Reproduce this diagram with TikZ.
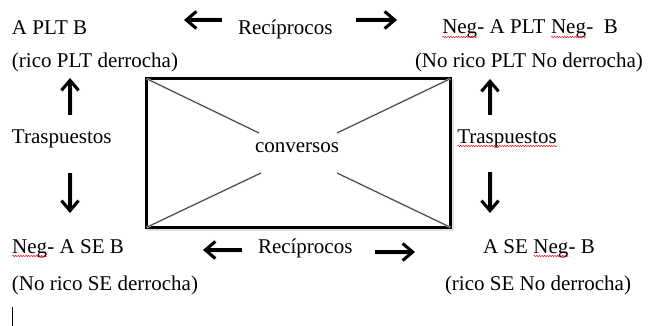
\documentclass[tikz,border=0pt]{standalone}
\usepackage{fontspec}
\setmainfont{Liberation Serif}
\usetikzlibrary{arrows.meta,decorations.pathmorphing}
\newcommand\sq[1]{\tikz[baseline=(w.base)]{\node[inner sep=0pt,outer sep=0pt](w){#1};\draw[red,line width=0.5pt,decorate,decoration={snake,amplitude=0.6pt,segment length=2.6pt}]([yshift=-3pt]w.base west)--([yshift=-3pt]w.base east);}}
\newcommand\myarrow[2]{\draw[arrshadow] (#1) -- (#2); \draw[arr] (#1) -- (#2);}
\begin{document}
\begin{tikzpicture}[x=1pt,y=-1pt,
  lbl/.style={anchor=base west,inner sep=0pt,outer sep=0pt,font=\fontsize{21}{25}\selectfont},
  arr/.style={line width=3.3pt,-{Straight Barb[length=10pt,width=17pt,line width=3pt]}},
  arrshadow/.style={line width=5pt,draw=black!18,opacity=0.5,-{Straight Barb[length=10pt,width=18pt,line width=4pt]},xshift=2pt,yshift=-3pt},
  diag/.style={draw=black!75,line width=1pt},
  diagshadow/.style={draw=black!12,line width=2pt,xshift=1pt,yshift=-2pt}]
\useasboundingbox (0,0) rectangle (648,326);
% texts
\node[lbl] (a) at (12,35) {A PLT B};
\node[lbl] (a2) at (12,68) {(rico PLT derrocha)};
\node[lbl] (r1) at (238,35) {Recíprocos};
\node[lbl] (b) at (442,34) {\sq{Neg}- A PLT \sq{Neg}-\ \ B};
\node[lbl] (b2) at (415,68) {(No rico PLT No derrocha)};
\node[lbl] (t1) at (12,144) {Traspuestos};
\node[lbl] (t2) at (457,143) {\sq{Traspuestos}};
\node[lbl] (c) at (12,253) {\sq{Neg}- A SE B};
\node[lbl] (c2) at (12,290) {(No rico SE derrocha)};
\node[lbl] (r2) at (258,253) {Recíprocos};
\node[lbl] (d) at (483,253) {A SE \sq{Neg}- B};
\node[lbl] (d2) at (445,290) {(rico SE No derrocha)};
% box
\node[draw=black!12,line width=3.5pt,inner sep=0pt,minimum width=304pt,minimum height=149pt] (boxsh) at (300.5,155) {};
\node[draw,line width=3.4pt,inner sep=0pt,minimum width=304pt,minimum height=149pt,fill=white] (box) at (298.5,153) {};
\coordinate (p1) at (259,133);
\coordinate (p2) at (337,133);
\coordinate (p3) at (261,173);
\coordinate (p4) at (337,173);
\node[lbl] (cv) at (255,153) {conversos};
\draw[diagshadow] ([shift={(2pt,-2pt)}]box.north west) -- (p1);
\draw[diagshadow] ([shift={(-2pt,-2pt)}]box.north east) -- (p2);
\draw[diagshadow] ([shift={(2pt,2pt)}]box.south west) -- (p3);
\draw[diagshadow] ([shift={(-2pt,2pt)}]box.south east) -- (p4);
\draw[diag] ([shift={(2pt,-2pt)}]box.north west) -- (p1);
\draw[diag] ([shift={(-2pt,-2pt)}]box.north east) -- (p2);
\draw[diag] ([shift={(2pt,2pt)}]box.south west) -- (p3);
\draw[diag] ([shift={(-2pt,2pt)}]box.south east) -- (p4);
% arrow ends
\coordinate (tl1) at (222,20); \coordinate (tl2) at (184,20);
\coordinate (tr1) at (356,20); \coordinate (tr2) at (397,20);
\coordinate (bl1) at (242,250); \coordinate (bl2) at (203,250);
\coordinate (br1) at (375,252); \coordinate (br2) at (415,252);
\coordinate (lu1) at (70,115); \coordinate (lu2) at (70,78);
\coordinate (ld1) at (70,173); \coordinate (ld2) at (70,213);
\coordinate (ru1) at (490,115); \coordinate (ru2) at (490,79);
\coordinate (rd1) at (490,172); \coordinate (rd2) at (490,213);
\myarrow{tl1}{tl2}
\myarrow{tr1}{tr2}
\myarrow{bl1}{bl2}
\myarrow{br1}{br2}
\myarrow{lu1}{lu2}
\myarrow{ld1}{ld2}
\myarrow{ru1}{ru2}
\myarrow{rd1}{rd2}
% cursor
\coordinate (k1) at (12,307); \coordinate (k2) at (12,326);
\draw[line width=0.6pt] (k1) -- (k2);
\end{tikzpicture}
\end{document}
